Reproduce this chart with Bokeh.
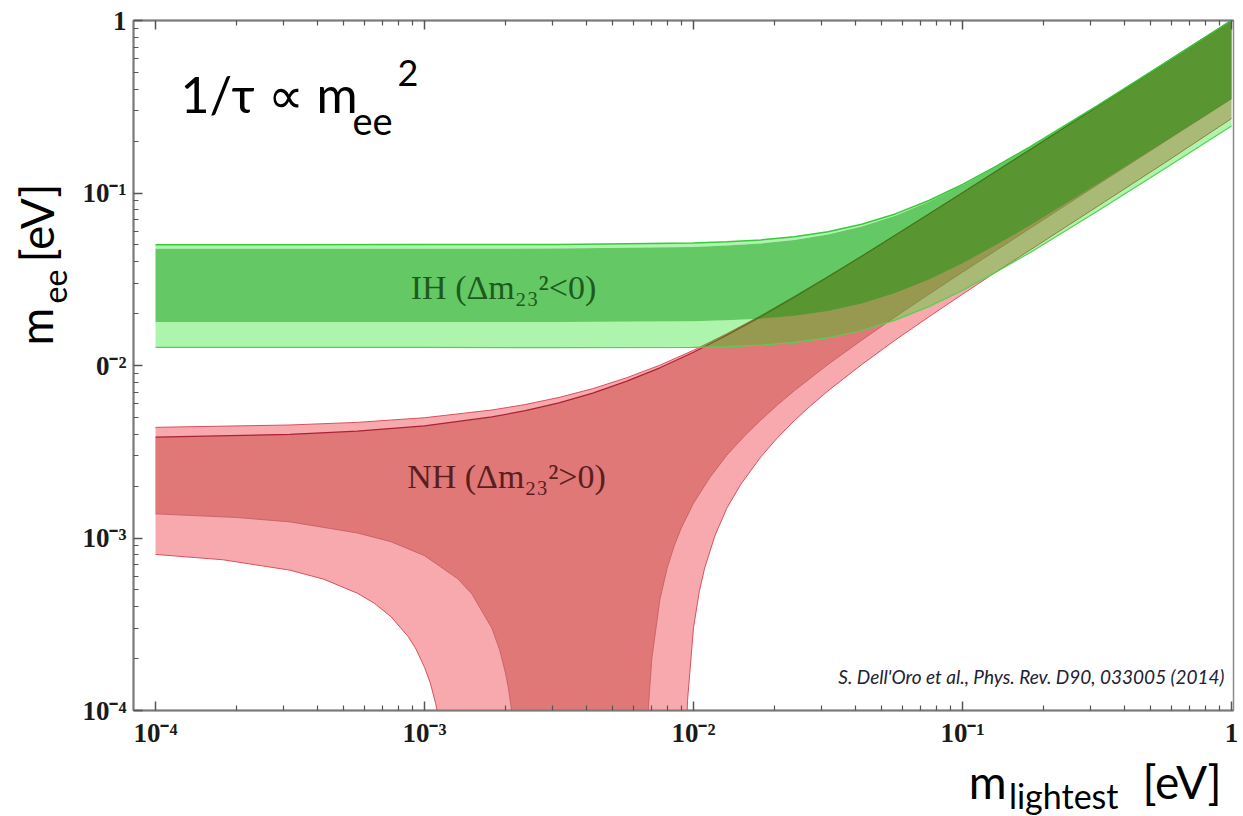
import numpy as np
from bokeh.plotting import figure
from bokeh.layouts import row, column
from bokeh.models import Range1d, FixedTicker, LogAxis, Label, CustomJSTickFormatter
from bokeh.embed import file_html
from bokeh.resources import INLINE

# ---------------- data ----------------
x_ticks = [1e-4, 1e-3, 1e-2, 1e-1, 1.0]
x_tick_labels = ["10⁻⁴", "10⁻³", "10⁻²", "10⁻¹", "1"]
y_ticks = [1e-4, 1e-3, 1e-2, 1e-1, 1.0]
y_tick_labels = ["10⁻⁴", "10⁻³", "0⁻²", "10⁻¹", "1"]

# Normal hierarchy (NH) - upper edges
nh_x = [1e-4, 3.16e-4, 5.62e-4, 1e-3, 1.78e-3, 2.37e-3, 3.16e-3, 4.22e-3, 5.62e-3, 7.5e-3, 1e-2,
        1.33e-2, 1.78e-2, 2.37e-2, 3.16e-2, 4.22e-2, 5.62e-2, 7.5e-2, 0.1, 0.178, 0.316, 0.562, 1.0]
nh_bf_upper = [0.00384, 0.00399, 0.00416, 0.00447, 0.00503, 0.00547, 0.00608, 0.00692, 0.00808,
               0.00970, 0.01193, 0.0150, 0.0192, 0.0249, 0.0326, 0.0430, 0.0569, 0.0755, 0.1004,
               0.1781, 0.3164, 0.5624, 1.0]
nh_3s_upper = [0.00438, 0.00452, 0.00468, 0.00498, 0.00552, 0.00594, 0.00653, 0.00734, 0.00847,
               0.01005, 0.01225, 0.01528, 0.01945, 0.02512, 0.03279, 0.04311, 0.05698, 0.07557,
               0.10044, 0.1781, 0.3164, 0.5624, 1.0]
# NH lower edges (left branch falls off the plot, right branch comes back)
nh_bf_left_x = [1e-4, 2e-4, 3.16e-4, 5.62e-4, 7.5e-4, 1e-3, 1.33e-3, 1.5e-3, 1.78e-3, 1.9e-3,
                2.0e-3, 2.05e-3, 2.1e-3, 2.15e-3, 2.2e-3]
nh_bf_left_y = [0.00138, 0.001315, 0.00124, 0.00107, 0.000952, 0.00079, 0.00058, 0.000474, 0.00030,
                0.000226, 0.000165, 0.000135, 0.000104, 0.0000743, 0.000044]
nh_bf_right_x = [6.7e-3, 6.75e-3, 6.8e-3, 7.0e-3, 7.5e-3, 8e-3, 8.5e-3, 9e-3, 1e-2, 1.15e-2, 1.33e-2,
                 1.55e-2, 1.78e-2, 2.05e-2, 2.37e-2, 3.16e-2, 4.22e-2, 5.62e-2, 7.5e-2, 0.1, 0.178,
                 0.316, 0.562, 1.0]
nh_bf_right_y = [5.6e-5, 8.0e-5, 1.05e-4, 2.0e-4, 4.4e-4, 6.8e-4, 9.1e-4, 1.14e-3, 1.59e-3, 2.24e-3,
                 3.02e-3, 3.91e-3, 4.83e-3, 5.90e-3, 7.14e-3, 1.013e-2, 1.402e-2, 1.913e-2, 2.587e-2,
                 3.477e-2, 6.23e-2, 0.1111, 0.1977, 0.3516]
nh_3s_left_x = [1e-4, 1.78e-4, 3.16e-4, 4.22e-4, 5.62e-4, 6.5e-4, 7.5e-4, 8.7e-4, 9.3e-4, 1e-3,
                1.05e-3, 1.1e-3, 1.15e-3, 1.2e-3]
nh_3s_left_y = [0.000803, 0.000748, 0.000651, 0.000577, 0.000479, 0.000419, 0.000350, 0.000268,
                0.000227, 0.000178, 0.000145, 0.000110, 0.0000775, 0.0000437]
nh_3s_right_x = [9.3e-3, 9.5e-3, 1e-2, 1.05e-2, 1.1e-2, 1.2e-2, 1.33e-2, 1.5e-2, 1.78e-2, 2.05e-2,
                 2.37e-2, 2.7e-2, 3.16e-2, 4.22e-2, 5.62e-2, 7.5e-2, 0.1, 0.133, 0.178, 0.316, 0.562, 1.0]
nh_3s_right_y = [3.75e-5, 1.14e-4, 3.02e-4, 4.87e-4, 6.69e-4, 1.026e-3, 1.489e-3, 2.05e-3, 2.954e-3,
                 3.807e-3, 4.788e-3, 5.769e-3, 7.121e-3, 1.0128e-2, 1.4034e-2, 1.9148e-2, 2.5882e-2,
                 3.4788e-2, 4.6597e-2, 8.32e-2, 0.1490, 0.2700]

# Inverted hierarchy (IH)
ih_x = [1e-4, 1e-3, 3.16e-3, 1e-2, 1.33e-2, 1.78e-2, 2.37e-2, 3.16e-2, 4.22e-2, 5.62e-2,
        7.5e-2, 0.1, 0.133, 0.178, 0.316, 0.562, 1.0]
ih_bf_upper = [0.04747, 0.04750, 0.04764, 0.04870, 0.04954, 0.05097, 0.05338, 0.05738, 0.06384,
               0.07392, 0.08904, 0.11093, 0.14174, 0.18420, 0.31986, 0.56439, 1.0012]
ih_bf_lower = [0.01790, 0.01789, 0.01787, 0.01806, 0.01827, 0.01868, 0.01942, 0.02072, 0.02287,
               0.02631, 0.03153, 0.03914, 0.04989, 0.06474, 0.11228, 0.19803, 0.35123]
ih_3s_upper = [0.05019, 0.05022, 0.05034, 0.05132, 0.05211, 0.05346, 0.05575, 0.05958, 0.06582,
               0.07563, 0.09046, 0.11208, 0.14264, 0.18490, 0.32026, 0.56462, 1.0013]
ih_3s_lower = [0.012746, 0.012722, 0.012685, 0.012745, 0.012868, 0.013121, 0.013606, 0.014476,
               0.015953, 0.018326, 0.021948, 0.027242, 0.034724, 0.045064, 0.07815, 0.13784, 0.24448]

# ---------------- main figure ----------------
LEFT_W, BOTTOM_H = 78, 66
p = figure(width=1243 - LEFT_W, height=816 - BOTTOM_H, x_axis_type="log", y_axis_type="log",
           x_range=Range1d(10 ** -4.0818, 10 ** 0.0074), y_range=Range1d(1e-4, 1.0),
           output_backend="svg", toolbar_location=None,
           min_border_left=133 - LEFT_W, min_border_right=10, min_border_top=20,
           min_border_bottom=816 - BOTTOM_H - 712,
           background_fill_color="white", border_fill_color="white")
p.xgrid.visible = False
p.ygrid.visible = False
p.outline_line_color = "#8a8a8a"
p.outline_line_width = 1.5

x_minor = [k * 10.0 ** e for e in (-4, -3, -2, -1) for k in range(2, 10)]
y_minor = [k * 10.0 ** e for e in (-4, -3, -2, -1) for k in range(2, 10)]

def style_axis(ax, standoff=8):
    ax.axis_line_color = "#7a7a7a"
    ax.axis_line_width = 2
    ax.major_tick_in = 9
    ax.major_tick_out = 0
    ax.minor_tick_in = 5
    ax.minor_tick_out = 0
    ax.major_tick_line_color = "#555555"
    ax.minor_tick_line_color = "#555555"
    ax.major_tick_line_width = 1.5
    ax.minor_tick_line_width = 1.2
    ax.major_label_standoff = standoff
    ax.major_label_text_font = "Liberation Serif"
    ax.major_label_text_font_style = "bold"
    ax.major_label_text_font_size = "27px"
    ax.major_label_text_color = "#1a1a1a"

fmt_code = "const i = Math.round(Math.log10(tick)) + 4; return l[i];"
xa = p.xaxis[0]
xa.ticker = FixedTicker(ticks=x_ticks, minor_ticks=x_minor)
xa.formatter = CustomJSTickFormatter(args=dict(l=x_tick_labels), code=fmt_code)
style_axis(xa, 7)

ya = p.yaxis[0]
ya.ticker = FixedTicker(ticks=y_ticks, minor_ticks=y_minor)
ya.formatter = CustomJSTickFormatter(args=dict(l=y_tick_labels), code=fmt_code)
style_axis(ya, 7)

top = LogAxis(ticker=FixedTicker(ticks=x_ticks, minor_ticks=x_minor),
              formatter=CustomJSTickFormatter(code="return '';"))
style_axis(top, 0)
top.major_label_text_font_size = "1px"
p.add_layout(top, "above")

# ---------------- bands ----------------
nh3_xs = nh_x + nh_3s_right_x[::-1] + nh_3s_left_x[::-1]
nh3_ys = nh_3s_upper + nh_3s_right_y[::-1] + nh_3s_left_y[::-1]
p.patch(nh3_xs, nh3_ys, fill_color="#f8a9ad", line_color=None)

nhbf_xs = nh_x + nh_bf_right_x[::-1] + nh_bf_left_x[::-1]
nhbf_ys = nh_bf_upper + nh_bf_right_y[::-1] + nh_bf_left_y[::-1]
p.patch(nhbf_xs, nhbf_ys, fill_color="#e07878", line_color=None)

p.line(nh_x, nh_3s_upper, line_color="#d9505e", line_width=1)
p.line(nh_x, nh_bf_upper, line_color="#a82434", line_width=1.3)
p.line(nh_3s_left_x, nh_3s_left_y, line_color="#d9505e", line_width=1)
p.line(nh_3s_right_x, nh_3s_right_y, line_color="#d9505e", line_width=1)
p.line(nh_bf_left_x, nh_bf_left_y, line_color="#c25a64", line_width=0.8)
p.line(nh_bf_right_x, nh_bf_right_y, line_color="#c25a64", line_width=0.8)

ih_rev = ih_x[::-1]
p.patch(ih_x + ih_rev, ih_3s_upper + ih_bf_upper[::-1], fill_color="#00e100", fill_alpha=0.32, line_color=None)
p.patch(ih_x + ih_rev, ih_bf_lower + ih_3s_lower[::-1], fill_color="#00e100", fill_alpha=0.32, line_color=None)
p.patch(ih_x + ih_rev, ih_bf_upper + ih_bf_lower[::-1], fill_color="#09a80a", fill_alpha=0.63, line_color=None)
p.line(ih_x, ih_3s_upper, line_color="#3cc83c", line_width=1.5)
p.line(ih_x, ih_3s_lower, line_color="#55d055", line_width=1.2)

# ---------------- side strips for the axis titles ----------------
def strip(w, h):
    f = figure(width=w, height=h, x_range=Range1d(0, 1), y_range=Range1d(0, 1),
               x_axis_location=None, y_axis_location=None, min_border=0,
               output_backend="svg", toolbar_location=None,
               background_fill_color="white", border_fill_color="white")
    f.grid.visible = False
    f.outline_line_color = None
    return f

fl = strip(LEFT_W, 816)
fb = strip(1243 - LEFT_W, BOTTOM_H)

def lab(fig, ox, oy, text, px, py, size, font="Lato", style="normal", color="black",
        align="left", angle=0):
    fig.add_layout(Label(x=px - ox, y=oy - py, x_units="screen", y_units="screen", text=text,
                         text_font=font, text_font_size=f"{size}px", text_font_style=style,
                         text_color=color, text_align=align, text_baseline="middle",
                         angle=angle, angle_units="deg"))

PX, PY = 133, 712          # page position of the main frame's lower-left corner
LX, LY = 0, 816            # left strip frame
BX, BY = 133, 816          # bottom strip frame (aligned with the main frame)

# title formula
lab(p, PX, PY, "1/τ ∝ m", 180, 95, 50)
lab(p, PX, PY, "ee", 352, 122, 38)
lab(p, PX, PY, "2", 397, 74, 36)

# y label (rotated)
lab(fl, LX, LY, "m", 35, 345, 46, angle=90)
lab(fl, LX, LY, "ee", 54, 303, 32, angle=90)
lab(fl, LX, LY, "[eV]", 36, 262, 46, angle=90)

# x label
lab(fb, BX, BY, "m", 1006, 781, 46, align="right")
lab(fb, BX, BY, "lightest", 1118, 795, 34, align="right")
lab(fb, BX, BY, "[eV]", 1221, 781, 46, align="right")

# band labels
lab(p, PX, PY, "IH (Δm₂₃²<0)", 503, 289, 34, font="Liberation Serif", color="#1e5a1e", align="center")
lab(p, PX, PY, "NH (Δm₂₃²>0)", 506, 478, 34, font="Liberation Serif", color="#5a1e1e", align="center")

# citation
lab(p, PX, PY, "S. Dell'Oro et al., Phys. Rev. D90, 033005 (2014)", 1224, 678, 19, style="italic",
    color="#222233", align="right")

layout = row(fl, column(p, fb))
open("out.html", "w").write(file_html(layout, INLINE))
